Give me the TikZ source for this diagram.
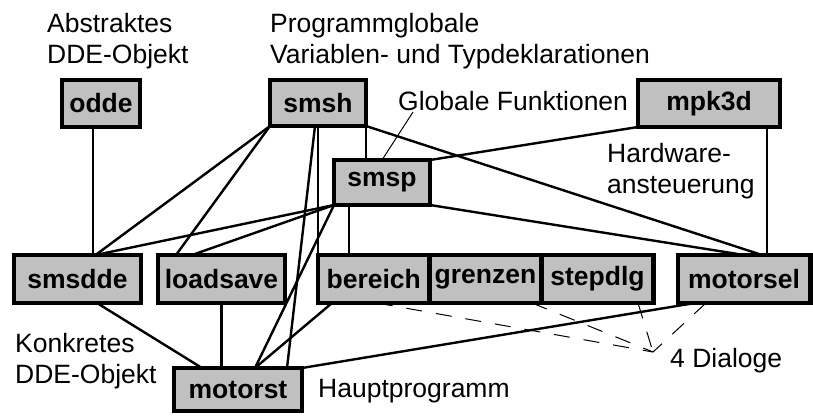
\documentclass[tikz,border=0pt]{standalone}
\usepackage{fontspec}
\setmainfont{Liberation Sans}
\definecolor{modfill}{RGB}{192,192,192}
\begin{document}
\begin{tikzpicture}%
	[x=1pt, y=-1pt,
	font=\fontsize{26.5}{31}\selectfont,
	module/.style={draw=black, line width=4.5pt, fill=modfill, inner sep=0pt, outer sep=0pt, font=\fontsize{26.5}{31}\selectfont\bfseries},
	edge/.style={line width=2.4pt},
	dialog/.style={line width=1pt, dash pattern=on 16pt off 14pt},
	pointer/.style={line width=1pt},
	note/.style={inner sep=0pt, align=left, anchor=base west}]
	%
	\useasboundingbox (0,0) rectangle (813,415);
	%%
	%% Modules, top row
	%%
	\node[module, minimum width=78pt, minimum height=47pt] (odde) at (101,103.5) {odde};
	\node[module, minimum width=96pt, minimum height=46pt] (smsh) at (318,103) {smsh};
	\node[module, minimum width=142pt, minimum height=47pt] (mpk3d) at (709,103.5) {mpk3d};
	\node[module, minimum width=96pt, minimum height=45pt] (smsp) at (382,182.5) {smsp};
	%%
	%% Modules, bottom rows
	%%
	\node[module, minimum width=127pt, minimum height=48pt] (smsdde) at (77.5,279) {smsdde};
	\node[module, minimum width=127pt, minimum height=48pt] (loadsave) at (221.5,279) {loadsave};
	\node[module, minimum width=111.5pt, minimum height=48pt] (bereich) at (373.75,279) {bereich};
	\node[module, minimum width=112pt, minimum height=48pt] (grenzen) at (485.5,279) {grenzen};
	\node[module, minimum width=112pt, minimum height=48pt] (stepdlg) at (597.5,279) {stepdlg};
	\node[module, minimum width=132.5pt, minimum height=48pt] (motorsel) at (744,279) {motorsel};
	\node[module, minimum width=128pt, minimum height=43pt] (motorst) at (238,389.5) {motorst};
	%%
	%% Comments (multi-line ones sit on their last baseline)
	%%
	\node[note] (abstr) at (47,63) {Abstraktes\\DDE-Objekt};
	\node[note] (progl) at (270,63) {Programmglobale\\Variablen- und Typdeklarationen};
	\node[note] (globf) at (398,110) {Globale Funktionen};
	\node[note] (hardw) at (607,193) {Hardware-\\ansteuerung};
	\node[note] (konkr) at (15,383) {Konkretes\\DDE-Objekt};
	\node[note] (haupt) at (318,397) {Hauptprogramm};
	\node[note] (dlgtxt) at (670,367) {4 Dialoge};
	\coordinate (gfend) at (413,112);
	\coordinate (dlg) at (653,352);
	%%
	%% Dependencies
	%%
	\draw[edge] ([xshift=-8pt]odde.south) -- ([xshift=15.5pt]smsdde.north);
	\draw[edge] (smsh.south west) -- ([xshift=18pt]smsdde.north);
	\draw[edge] (smsh.south west) -- ([xshift=-45.5pt]loadsave.north);
	\draw[edge] ([xshift=-3pt]smsh.south) -- ([xshift=49pt]motorst.north);
	\draw[edge] (smsh.south) -- (bereich.north west);
	\draw[edge] (smsh.south east) -- (smsh.south east |- smsp.north);
	\draw[edge] (smsh.south east) -- ([xshift=18pt]motorsel.north);
	\draw[edge] (smsp.south west) -- ([xshift=18pt]smsdde.north);
	\draw[edge] (smsp.south west) -- ([xshift=-29.5pt]loadsave.north);
	\draw[edge] (smsp.south west) -- ([xshift=17pt]motorst.north);
	\draw[edge] ([xshift=-33pt]smsp.south) -- ([xshift=-24.75pt]bereich.north);
	\draw[edge] (smsp.south east) -- (motorsel.north);
	\draw[edge] (mpk3d.south west) -- (smsp.north east);
	\draw[edge] ([xshift=58pt]mpk3d.south) -- ([xshift=58pt]mpk3d.south |- motorsel.north);
	\draw[edge] ([xshift=19.5pt]smsdde.south) -- ([xshift=-36pt]motorst.north);
	\draw[edge] (loadsave.south) -- (loadsave.south |- motorst.north);
	\draw[edge] ([xshift=-41.75pt]bereich.south) -- ([xshift=17pt]motorst.north);
	\draw[edge] ([xshift=-49pt]motorsel.south) -- (motorst.north east);
	%%
	%% Dialogs and pointer
	%%
	\draw[dialog] ([xshift=3pt]bereich.south) -- (dlg);
	\draw[dialog] ([xshift=46.5pt]grenzen.south) -- (dlg);
	\draw[dialog] ([xshift=40.5pt]stepdlg.south) -- (dlg);
	\draw[dialog] ([xshift=-38pt]motorsel.south) -- (dlg);
	\draw[pointer] (smsp.north) -- (gfend);
\end{tikzpicture}
\end{document}
